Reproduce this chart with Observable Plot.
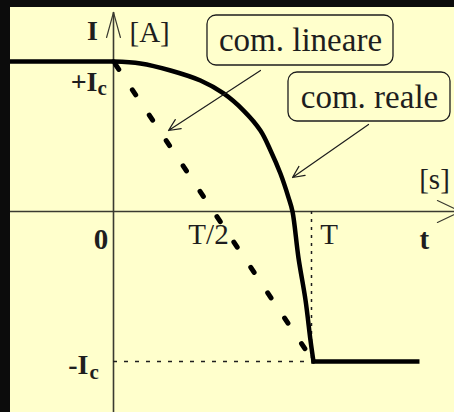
<!DOCTYPE html>
<html><head><meta charset="utf-8">
<script src="https://cdn.jsdelivr.net/npm/d3@7"></script>
<script src="https://cdn.jsdelivr.net/npm/@observablehq/plot@0.6"></script>
<style>
html,body{margin:0;padding:0;background:#0c0c0c;width:454px;height:412px;overflow:hidden}
#chart{position:absolute;left:10px;top:7px}
</style></head><body><div id="chart"></div>
<script>
// t in units of T, I in units of Ic
const realT = [0, 0.136, 0.288, 0.439, 0.556, 0.657, 0.742, 0.793, 0.843, 0.884, 0.904, 0.934, 0.970, 0.995, 1.01];
const realI = [1, 0.987, 0.94, 0.873, 0.787, 0.673, 0.54, 0.407, 0.253, 0.093, 0, -0.307, -0.593, -0.86, -1];
const topFlatT = [-0.52, 0];
const topFlatI = [1, 1];
const bottomFlatT = [1.01, 1.534];
const bottomFlatI = [-1, -1];
const linearT = [0, 1.01];
const linearI = [1, -1];
const xTickValues = [0, 0.5, 1, 1.57];
const xTickLabels = ["0", "T/2", "T", "t"];
const yTickValues = [1, -1];
const yTickLabels = ["+I", "-I"];
const yTickSub = "c";
const yUnitLabels = ["I", "[A]"];
const xUnitLabel = "[s]";
const calloutLabels = ["com. lineare", "com. reale"];
const calloutBoxT = [[0.4747, 1.4141], [0.8838, 1.702]];
const calloutBoxI = [[1.3067, 0.9733], [0.9267, 0.6]];
const calloutArrowFrom = [[0.7424, 0.94], [1.288, 0.58]];
const calloutArrowTo = [[0.2778, 0.54], [0.904, 0.2267]];

const zip = (a, b) => a.map((v, i) => ({t: v, I: b[i]}));
const real = zip(realT, realI);
const topFlat = zip(topFlatT, topFlatI);
const bottomFlat = zip(bottomFlatT, bottomFlatI);
const linear = zip(linearT, linearI);
const boxes = calloutLabels.map((l, i) => ({label: l, t1: calloutBoxT[i][0], t2: calloutBoxT[i][1], I1: calloutBoxI[i][0], I2: calloutBoxI[i][1]}));
const arrows = calloutLabels.map((l, i) => ({t1: calloutArrowFrom[i][0], I1: calloutArrowFrom[i][1], t2: calloutArrowTo[i][0], I2: calloutArrowTo[i][1]}));

const ink = "#1e1e1e";
const axisInk = "#3a3a30";
const xMin = -0.5202, xMax = 1.7222, yMin = -1.34, yAxisTop = 1.327, yMax = 1.36;

// label styling: offsets in px, weights
const xTickStyle = [
  {dx: -12.5, dy: 37, fontWeight: "bold"},
  {dx: -4, dy: 32, fontWeight: "normal"},
  {dx: 17.5, dy: 32, fontWeight: "normal"},
  {dx: 0, dy: 37, fontWeight: "bold"}
];
const yTickStyle = [
  {dx: -16, dy: 29, sdx: -16, sdy: 33},
  {dx: -25, dy: 12, sdx: -24, sdy: 17}
];

const xTickMarks = xTickValues.map((v, i) => Plot.text([{t: v, label: xTickLabels[i]}], {
  x: "t", y: () => 0, text: "label", fontSize: 29, lineAnchor: "bottom", fill: ink,
  dx: xTickStyle[i].dx, dy: xTickStyle[i].dy, fontWeight: xTickStyle[i].fontWeight
}));
const yTickMarks = yTickValues.flatMap((v, i) => [
  Plot.text([{I: v, label: yTickLabels[i]}], {
    x: () => 0, y: "I", text: "label", fontSize: 28, lineAnchor: "bottom", textAnchor: "end",
    fill: ink, fontWeight: "bold", dx: yTickStyle[i].dx, dy: yTickStyle[i].dy
  }),
  Plot.text([{I: v, label: yTickSub}], {
    x: () => 0, y: "I", text: "label", fontSize: 21, lineAnchor: "bottom", textAnchor: "start",
    fill: ink, fontWeight: "bold", dx: yTickStyle[i].sdx, dy: yTickStyle[i].sdy
  })
]);

const svg = Plot.plot({
  width: 444, height: 405, margin: 0,
  x: {domain: [xMin, xMax], axis: null},
  y: {domain: [yMin, yMax], axis: null},
  style: {background: "#FFFFCC", fontFamily: "Liberation Serif", color: ink},
  marks: [
    // axes
    Plot.ruleY([0], {stroke: axisInk, strokeWidth: 1.6}),
    Plot.ruleX([0], {y1: yMin, y2: yAxisTop, stroke: axisInk, strokeWidth: 1.6}),
    Plot.line([{t: -0.035, I: 1.16}, {t: 0, I: yAxisTop}, {t: 0.035, I: 1.16}], {x: "t", y: "I", stroke: axisInk, strokeWidth: 1.2}),
    Plot.line([{t: 1.636, I: 0.073}, {t: 1.753, I: 0}, {t: 1.636, I: -0.073}], {x: "t", y: "I", stroke: axisInk, strokeWidth: 1.2}),
    // dotted guides
    Plot.ruleY([-1], {x1: 0, x2: 1.0, stroke: ink, strokeWidth: 1.5, strokeDasharray: "4,7"}),
    Plot.ruleX([1], {y1: 0, y2: -1, stroke: ink, strokeWidth: 1.5, strokeDasharray: "3,5"}),
    // linear commutation
    Plot.line(linear, {x: "t", y: "I", stroke: "#000", strokeWidth: 5, strokeDasharray: "6,24.5", strokeDashoffset: 27}),
    // real commutation
    Plot.line(topFlat, {x: "t", y: "I", stroke: "#000", strokeWidth: 4.5}),
    Plot.line(real, {x: "t", y: "I", stroke: "#000", strokeWidth: 4.5, curve: "catmull-rom"}),
    Plot.line(bottomFlat, {x: "t", y: "I", stroke: "#000", strokeWidth: 4.5, strokeLinecap: "square"}),
    // callouts
    Plot.arrow(arrows, {x1: "t1", y1: "I1", x2: "t2", y2: "I2", stroke: ink, strokeWidth: 1.2, headLength: 16, headAngle: 50}),
    Plot.rect(boxes, {x1: "t1", x2: "t2", y1: "I1", y2: "I2", fill: "#FFFFCC", stroke: ink, strokeWidth: 1.3, rx: 9}),
    Plot.text(boxes, {x: d => (d.t1 + d.t2) / 2, y: d => (d.I1 + d.I2) / 2, text: "label", fontSize: 33, lineAnchor: "middle", fill: ink}),
    // tick labels
    ...xTickMarks,
    ...yTickMarks,
    // unit labels
    Plot.text([yUnitLabels[0]], {x: () => 0, y: () => yAxisTop, text: d => d, fontSize: 28, fontWeight: "bold", lineAnchor: "bottom", dx: -21, dy: 28, fill: ink}),
    Plot.text([yUnitLabels[1]], {x: () => 0, y: () => yAxisTop, text: d => d, fontSize: 29, lineAnchor: "bottom", textAnchor: "start", dx: 16, dy: 30, fill: ink}),
    Plot.text([xUnitLabel], {x: () => xMax, y: () => 0, text: d => d, fontSize: 29, lineAnchor: "bottom", dx: -20, dy: -23, fill: ink})
  ]
});

document.getElementById("chart").appendChild(svg);
</script></body></html>
